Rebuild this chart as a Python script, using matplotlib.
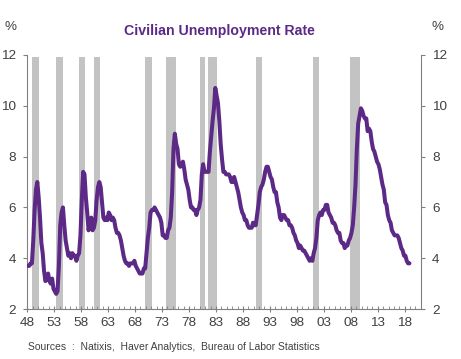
import numpy as np
import matplotlib.pyplot as plt

plt.rcParams['font.family'] = ['Liberation Sans', 'DejaVu Sans']

# quarterly civilian unemployment rate, %, starting 1948 Q1
start_year = 1948
unemployment = [
    3.7, 3.7, 3.8, 3.8,   # 1948
    4.7, 5.9, 6.7, 7.0,   # 1949
    6.4, 5.6, 4.6, 4.2,   # 1950
    3.5, 3.1, 3.2, 3.4,   # 1951
    3.1, 3.0, 3.2, 2.8,   # 1952
    2.7, 2.6, 2.7, 3.7,   # 1953
    5.3, 5.8, 6.0, 5.3,   # 1954
    4.7, 4.4, 4.1, 4.2,   # 1955
    4.0, 4.2, 4.1, 4.1,   # 1956
    3.9, 4.1, 4.2, 4.9,   # 1957
    6.3, 7.4, 7.3, 6.4,   # 1958
    5.8, 5.1, 5.3, 5.6,   # 1959
    5.1, 5.2, 5.5, 6.3,   # 1960
    6.8, 7.0, 6.8, 6.2,   # 1961
    5.6, 5.5, 5.6, 5.5,   # 1962
    5.8, 5.7, 5.5, 5.6,   # 1963
    5.5, 5.2, 5.0, 5.0,   # 1964
    4.9, 4.7, 4.4, 4.1,   # 1965
    3.9, 3.8, 3.8, 3.7,   # 1966
    3.8, 3.8, 3.8, 3.9,   # 1967
    3.7, 3.6, 3.5, 3.4,   # 1968
    3.4, 3.4, 3.6, 3.6,   # 1969
    4.2, 4.8, 5.2, 5.8,   # 1970
    5.9, 5.9, 6.0, 5.9,   # 1971
    5.8, 5.7, 5.6, 5.4,   # 1972
    4.9, 4.9, 4.8, 4.8,   # 1973
    5.1, 5.2, 5.6, 6.6,   # 1974
    8.3, 8.9, 8.5, 8.3,   # 1975
    7.7, 7.6, 7.7, 7.8,   # 1976
    7.5, 7.1, 6.9, 6.7,   # 1977
    6.3, 6.0, 6.0, 5.9,   # 1978
    5.9, 5.7, 5.9, 6.0,   # 1979
    6.3, 7.3, 7.7, 7.4,   # 1980
    7.4, 7.4, 7.4, 8.2,   # 1981
    8.8, 9.4, 9.9, 10.7,  # 1982
    10.4, 10.1, 9.4, 8.5, # 1983
    7.9, 7.4, 7.4, 7.3,   # 1984
    7.3, 7.3, 7.2, 7.0,   # 1985
    7.0, 7.2, 7.0, 6.8,   # 1986
    6.6, 6.3, 6.0, 5.8,   # 1987
    5.7, 5.5, 5.5, 5.3,   # 1988
    5.2, 5.2, 5.2, 5.4,   # 1989
    5.3, 5.3, 5.7, 6.1,   # 1990
    6.6, 6.8, 6.9, 7.1,   # 1991
    7.4, 7.6, 7.6, 7.4,   # 1992
    7.2, 7.1, 6.8, 6.6,   # 1993
    6.6, 6.2, 6.0, 5.6,   # 1994
    5.5, 5.7, 5.7, 5.6,   # 1995
    5.5, 5.5, 5.3, 5.3,   # 1996
    5.2, 5.0, 4.9, 4.7,   # 1997
    4.6, 4.4, 4.5, 4.4,   # 1998
    4.3, 4.3, 4.2, 4.1,   # 1999
    4.0, 3.9, 4.0, 3.9,   # 2000
    4.2, 4.4, 4.8, 5.5,   # 2001
    5.7, 5.8, 5.7, 5.9,   # 2002
    5.9, 6.1, 6.1, 5.8,   # 2003
    5.7, 5.6, 5.4, 5.4,   # 2004
    5.3, 5.1, 5.0, 5.0,   # 2005
    4.7, 4.6, 4.6, 4.4,   # 2006
    4.5, 4.5, 4.7, 4.8,   # 2007
    5.0, 5.3, 6.0, 6.9,   # 2008
    8.3, 9.3, 9.6, 9.9,   # 2009
    9.8, 9.6, 9.5, 9.5,   # 2010
    9.0, 9.1, 9.0, 8.6,   # 2011
    8.3, 8.2, 8.0, 7.8,   # 2012
    7.7, 7.5, 7.2, 6.9,   # 2013
    6.7, 6.2, 6.1, 5.7,   # 2014
    5.5, 5.4, 5.1, 5.0,   # 2015
    4.9, 4.9, 4.9, 4.8,   # 2016
    4.6, 4.4, 4.3, 4.1,   # 2017
    4.1, 3.9, 3.8, 3.8,   # 2018
]

# recession shading (start, end) in decimal years, as drawn in the chart
recessions = [
    (1948.9, 1950.2), (1953.3, 1954.7), (1957.6, 1958.7), (1960.3, 1961.5),
    (1969.9, 1971.2), (1973.7, 1975.5), (1980.0, 1980.9), (1981.5, 1983.2),
    (1990.5, 1991.5), (2001.0, 2002.1), (2007.8, 2009.7),
]

year_ticks = list(range(1948, 2019, 5))
year_labels = ['%02d' % (y % 100) for y in year_ticks]
pct_ticks = [2, 4, 6, 8, 10, 12]

purple = '#5c2a86'
grey_txt = '#404040'

t = start_year + 0.125 + 0.25 * np.arange(len(unemployment))

fig = plt.figure(figsize=(4.61, 3.59), dpi=100)
ax = fig.add_axes([0.059, 0.139, 0.854, 0.708])

for s, e in recessions:
    ax.axvspan(s, e, ymin=0, ymax=0.99, color='#c3c3c3', lw=0, zorder=1)

ax.plot(t, unemployment, color=purple, lw=2.9, solid_joinstyle='round',
        solid_capstyle='round', zorder=3)

ax.set_xlim(1948, 2021)
ax.set_ylim(2, 12)
ax.set_yticks(pct_ticks)
ax.set_xticks(year_ticks)
ax.set_xticklabels(year_labels)
ax.set_xticks(range(1948, 2021), minor=True)

for side in ['left', 'right', 'bottom']:
    ax.spines[side].set_color('#808080')
    ax.spines[side].set_linewidth(0.8)
ax.spines['top'].set_visible(False)

ax.tick_params(axis='y', which='both', left=True, right=True, labelleft=True,
               labelright=True, length=3, color='#808080',
               labelsize=9.7, labelcolor=grey_txt, pad=5)
ax.tick_params(axis='x', which='major', direction='inout', length=5,
               color='#808080', labelsize=9.7, labelcolor=grey_txt, pad=3)
ax.tick_params(axis='x', which='minor', direction='in', length=2,
               color='#808080')

fig.text(0.477, 0.915, 'Civilian Unemployment Rate', ha='center', va='center',
         color=purple, fontsize=10.2, fontweight='bold')
fig.text(0.022, 0.925, '%', ha='center', va='center', color=grey_txt, fontsize=9.7)
fig.text(0.948, 0.925, '%', ha='center', va='center', color=grey_txt, fontsize=9.7)
fig.text(0.06, 0.033, 'Sources  :  Natixis,  Haver Analytics,  Bureau of Labor Statistics',
         ha='left', va='center', color=grey_txt, fontsize=7.5)

fig.savefig('out.png', dpi=100)
